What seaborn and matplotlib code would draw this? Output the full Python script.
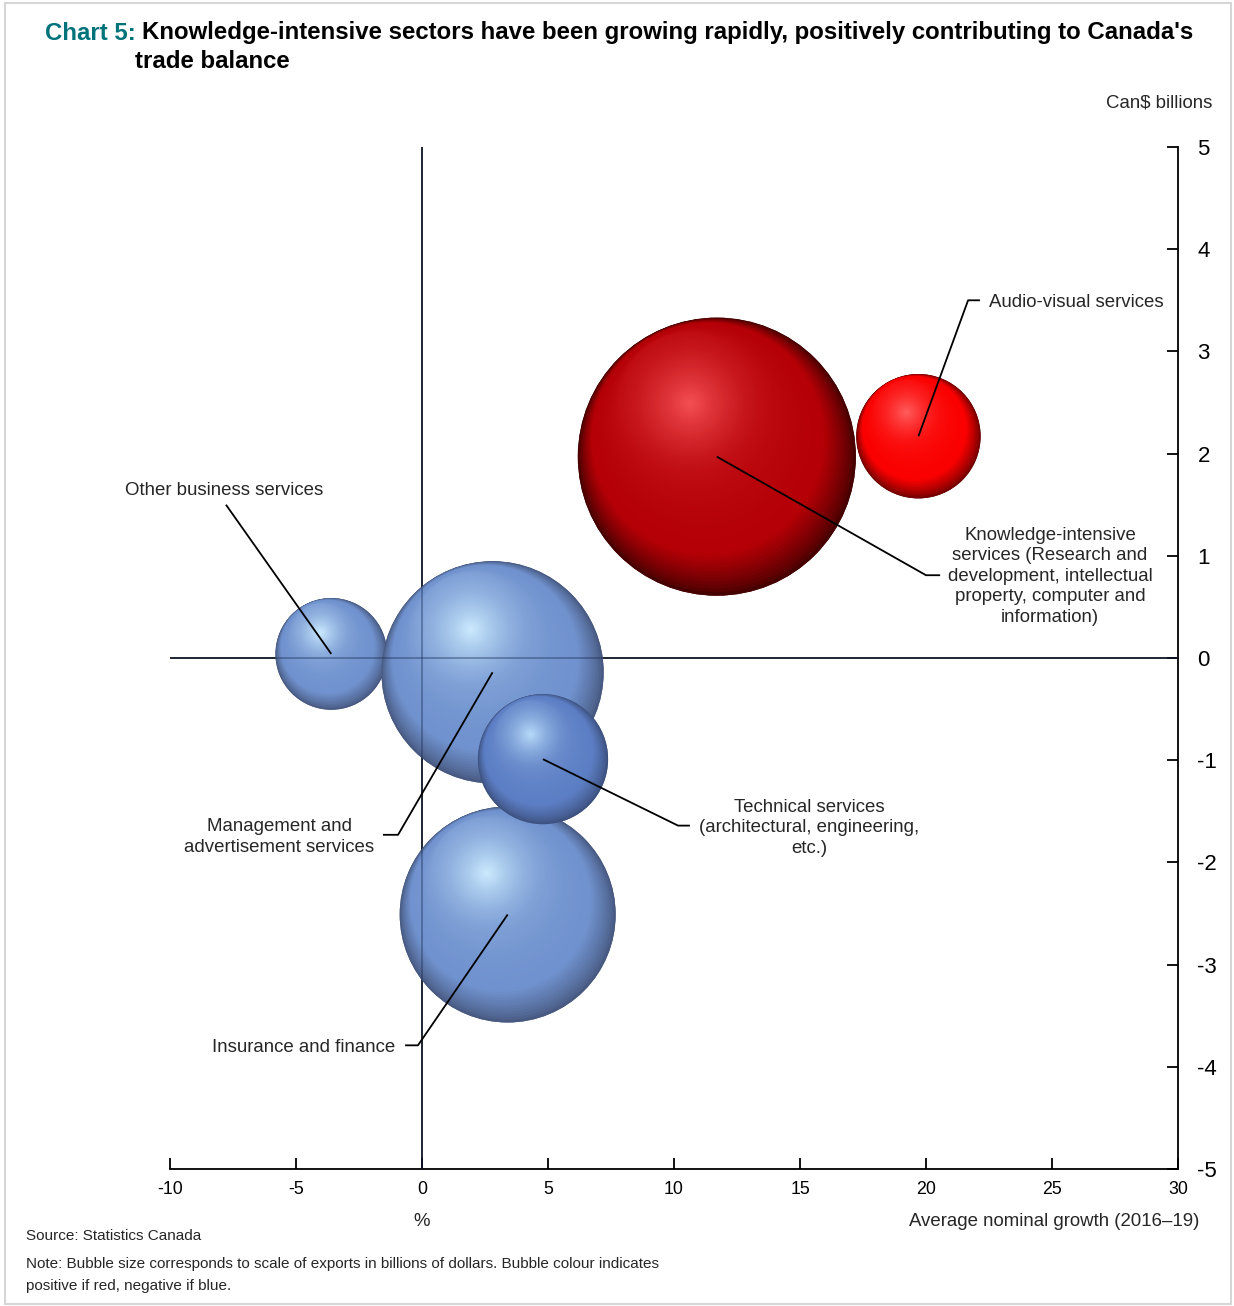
import numpy as np
import pandas as pd
import matplotlib
matplotlib.use("Agg")
import matplotlib.pyplot as plt
import seaborn as sns
from matplotlib.patches import Rectangle

# ---------------- data ----------------
sectors = [
    "Other business services",
    "Management and advertisement services",
    "Insurance and finance",
    "Technical services",
    "Knowledge-intensive services",
    "Audio-visual services",
]
growth = [-3.6, 2.8, 3.4, 4.8, 11.7, 19.7]          # % average nominal growth 2016-19
balance = [0.04, -0.14, -2.51, -0.99, 1.97, 2.17]    # Can$ billions trade balance
exports = [5.0, 19.8, 18.7, 6.8, 31.0, 6.2]          # Can$ billions exports (bubble size)
x_ticks = [-10, -5, 0, 5, 10, 15, 20, 25, 30]
y_ticks = [-5, -4, -3, -2, -1, 0, 1, 2, 3, 4, 5]

df = pd.DataFrame({"sector": sectors, "growth": growth,
                   "balance": balance, "exports": exports})

# ---------------- styles ----------------
SIZE_MAX = 45245.0
SIZE_NORM = (0, 35)
blue_scheme = ((72, 90, 130), (112, 146, 206), (205, 236, 255))
schemes = {
    "Other business services": blue_scheme,
    "Management and advertisement services": blue_scheme,
    "Insurance and finance": blue_scheme,
    "Technical services": ((62, 82, 128), (92, 126, 196), (185, 220, 250)),
    "Knowledge-intensive services": ((70, 0, 0), (180, 0, 6), (245, 80, 85)),
    "Audio-visual services": ((115, 0, 0), (250, 0, 0), (255, 95, 95)),
}
label_layout = {
    "Other business services": dict(text="Other business services", tx=-7.86, ty=1.64,
                                    ha="center", elbow=(-7.78, 1.50), end=None),
    "Management and advertisement services": dict(text="Management and\nadvertisement services",
                                                  tx=-5.67, ty=-1.75, ha="center",
                                                  elbow=(-0.95, -1.73), end=(-1.55, -1.73)),
    "Insurance and finance": dict(text="Insurance and finance", tx=-1.07, ty=-3.81, ha="right",
                                  elbow=(-0.16, -3.79), end=(-0.67, -3.79)),
    "Technical services": dict(text="Technical services\n(architectural, engineering,\netc.)",
                               tx=15.36, ty=-1.66, ha="center",
                               elbow=(10.16, -1.64), end=(10.63, -1.64)),
    "Knowledge-intensive services": dict(text="Knowledge-intensive\nservices (Research and\ndevelopment, intellectual\nproperty, computer and\ninformation)",
                                         tx=24.92, ty=0.80, ha="center",
                                         elbow=(20.0, 0.81), end=(20.56, 0.81)),
    "Audio-visual services": dict(text="Audio-visual services", tx=22.5, ty=3.48, ha="left",
                                  elbow=(21.67, 3.50), end=(22.14, 3.50)),
}
draw_order = ["Other business services", "Management and advertisement services",
              "Insurance and finance", "Technical services",
              "Knowledge-intensive services", "Audio-visual services"]

sns.set_style("white")
plt.rcParams["font.family"] = ["Liberation Sans", "DejaVu Sans"]

DPI = 100
fig = plt.figure(figsize=(12.34, 13.06), dpi=DPI)
ax = fig.add_axes([170 / 1234, 1 - 1169 / 1306, (1178 - 170) / 1234, (1169 - 147) / 1306])
ax.set_xlim(-10, 30)
ax.set_ylim(-5, 5)

# zero lines (beneath bubbles)
ax.axhline(0, color="black", lw=1.2, zorder=1)
ax.axvline(0, color="black", lw=1.2, zorder=1)

# base (rim) layer with seaborn
rim_palette = {s: tuple(c / 255 for c in schemes[s][0]) for s in sectors}
sns.scatterplot(data=df, x="growth", y="balance", hue="sector", palette=rim_palette,
                size="exports", sizes=(0, SIZE_MAX), size_norm=SIZE_NORM,
                linewidth=0, legend=False, ax=ax, zorder=2)

# shading layers
fig.canvas.draw()
p0 = ax.transData.transform((0, 0))
px_per_x = ax.transData.transform((1, 0))[0] - p0[0]
px_per_y = ax.transData.transform((0, 1))[1] - p0[1]
hdir = np.array([-0.45, 0.89])
hdir = hdir / np.linalg.norm(hdir)
HMAX = 0.43
N = 70


def grad(t, rim, base, hi):
    rim, base, hi = (np.array(c) / 255 for c in (rim, base, hi))
    if t < 0.16:
        f = (t / 0.16) ** 0.8
        c = rim + (base - rim) * f
    else:
        f = ((t - 0.16) / 0.84) ** 1.9
        c = base + (hi - base) * f
    return tuple(np.clip(c, 0, 1))


for zi, sec in enumerate(draw_order):
    row = df[df.sector == sec].iloc[0]
    s = SIZE_MAX * (row.exports - SIZE_NORM[0]) / (SIZE_NORM[1] - SIZE_NORM[0])
    r_pt = np.sqrt(s) / 2
    r_px = r_pt * DPI / 72
    ts = np.arange(0, N) / N
    off = np.minimum(0.88 * ts, HMAX)
    xs = row.growth + off * hdir[0] * r_px / px_per_x
    ys = row.balance + off * hdir[1] * r_px / px_per_y
    ss = s * (1 - ts) ** 2
    cs = [grad(t, *schemes[sec]) for t in ts]
    ax.scatter(xs, ys, s=ss, c=cs, linewidths=0, zorder=3 + zi)

# translucent zero lines over bubbles
ax.axhline(0, color="#1a2a50", lw=1.2, alpha=0.45, zorder=20)
ax.axvline(0, color="#1a2a50", lw=1.2, alpha=0.45, zorder=20)

# leader lines and labels
for sec in sectors:
    row = df[df.sector == sec].iloc[0]
    lay = label_layout[sec]
    pts = [(row.growth, row.balance), lay["elbow"]]
    if lay["end"] is not None:
        pts.append(lay["end"])
    ax.plot([p[0] for p in pts], [p[1] for p in pts], color="black", lw=1.3,
            zorder=30, solid_capstyle="butt")
    ax.text(lay["tx"], lay["ty"], lay["text"], ha=lay["ha"], va="center",
            fontsize=13.4, linespacing=1.27, zorder=31, multialignment="center")

# axes styling
for side in ["top", "left"]:
    ax.spines[side].set_visible(False)
for side in ["bottom", "right"]:
    ax.spines[side].set_visible(True)
    ax.spines[side].set_color("black")
    ax.spines[side].set_linewidth(1.3)
ax.yaxis.tick_right()
ax.set_xticks(x_ticks)
ax.set_yticks(y_ticks)
ax.set_xticklabels([str(v) for v in x_ticks])
ax.set_yticklabels([str(v) for v in y_ticks])
ax.tick_params(axis="x", direction="in", length=8, width=1.3, labelsize=12.8, pad=9,
               bottom=True, colors="black")
ax.tick_params(axis="y", direction="in", length=8, width=1.3, labelsize=16, pad=14,
               right=True, left=False, colors="black")
ax.set_xlabel("")
ax.set_ylabel("")
ax.grid(False)

# figure texts
teal = "#00727a"
fig.text(45 / 1234, 1 - 33 / 1306, "Chart 5:", color=teal, fontsize=17.3, fontweight="bold",
         va="center", ha="left")
fig.text(142 / 1234, 1 - 33 / 1306,
         "Knowledge-intensive sectors have been growing rapidly, positively contributing to Canada's",
         color="black", fontsize=17.3, fontweight="bold", va="center", ha="left")
fig.text(135 / 1234, 1 - 61 / 1306, "trade balance", color="black", fontsize=17.3,
         fontweight="bold", va="center", ha="left")
fig.text(1212 / 1234, 1 - 103 / 1306, "Can$ billions", fontsize=13.4, ha="right", va="center")
fig.text(422 / 1234, 1 - 1222 / 1306, "%", fontsize=13.4, ha="center", va="center")
fig.text(1199 / 1234, 1 - 1221 / 1306, "Average nominal growth (2016\u201319)", fontsize=13.4,
         ha="right", va="center")
fig.text(26 / 1234, 1 - 1236 / 1306, "Source: Statistics Canada", fontsize=11,
         ha="left", va="center")
fig.text(26 / 1234, 1 - 1264 / 1306,
         "Note: Bubble size corresponds to scale of exports in billions of dollars. Bubble colour indicates",
         fontsize=11, ha="left", va="center")
fig.text(26 / 1234, 1 - 1286 / 1306, "positive if red, negative if blue.", fontsize=11,
         ha="left", va="center")

fig.patches.append(Rectangle((5 / 1234, 2 / 1306), 1226 / 1234, 1301 / 1306,
                             transform=fig.transFigure, fill=False,
                             edgecolor="#d6d6d6", lw=1.5))

fig.savefig("out.png", dpi=DPI)
